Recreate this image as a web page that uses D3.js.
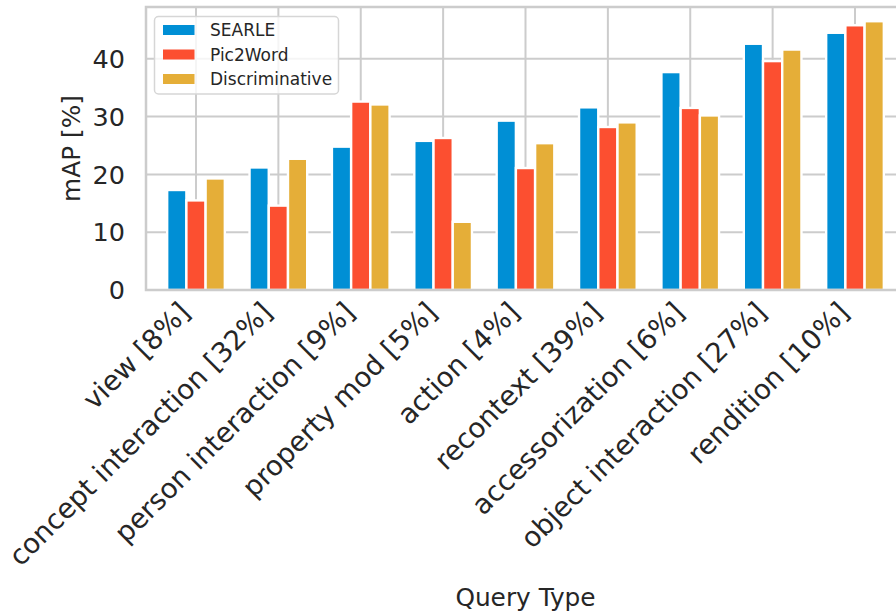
<!DOCTYPE html>
<html>
<head>
<meta charset="utf-8">
<script src="https://cdn.jsdelivr.net/npm/d3@7"></script>
<style>
  html, body { margin: 0; padding: 0; background: #fff; }
  svg { display: block; font-family: "DejaVu Sans", sans-serif; }
</style>
</head>
<body>
<svg id="chart" width="896" height="615"></svg>
<script>
// Query types with their share of the benchmark
const categories = [
  "view [8%]", "concept interaction [32%]", "person interaction [9%]",
  "property mod [5%]", "action [4%]", "recontext [39%]",
  "accessorization [6%]", "object interaction [27%]", "rendition [10%]"
];
const seriesNames = ["SEARLE", "Pic2Word", "Discriminative"];
const searle         = [17.3, 21.2, 24.8, 25.8, 29.3, 31.6, 37.7, 42.6, 44.5];
const pic2word       = [15.5, 14.6, 32.6, 26.3, 21.1, 28.2, 31.5, 39.6, 45.8];
const discriminative = [19.3, 22.7, 32.1, 11.8, 25.4, 29.0, 30.2, 41.6, 46.5];
const yTicks = [0, 10, 20, 30, 40];

const seriesValues = [searle, pic2word, discriminative];
const colors = ["#008fd5", "#fc4f30", "#e5ae38"];
const textColor = "#262626";
const gridColor = "#cccccc";

const svg = d3.select("#chart");
const plotLeft = 146, plotRight = 905, plotTop = 7, plotBottom = 290;

// index-based x scale: category i sits at x(i)
const x = d3.scaleLinear().domain([-0.607, 8.607]).range([plotLeft, plotRight]);
const y = d3.scaleLinear().domain([0, 48.96]).range([plotBottom, plotTop]);
const barW = 0.7 / 3;

// grid
const grid = svg.append("g");
grid.selectAll("line.h").data(yTicks).join("line")
  .attr("x1", plotLeft).attr("x2", plotRight)
  .attr("y1", d => y(d)).attr("y2", d => y(d))
  .attr("stroke", gridColor).attr("stroke-width", 2);
grid.selectAll("line.v").data(categories.map((c, i) => i)).join("line")
  .attr("x1", d => x(d)).attr("x2", d => x(d))
  .attr("y1", plotTop).attr("y2", plotBottom)
  .attr("stroke", gridColor).attr("stroke-width", 2);

// bars
seriesValues.forEach((vals, s) => {
  svg.append("g").selectAll("rect").data(vals).join("rect")
    .attr("x", (d, i) => x(i + (s - 1) * barW - barW / 2))
    .attr("width", x(barW) - x(0))
    .attr("y", d => y(d))
    .attr("height", d => y(0) - y(d))
    .attr("fill", colors[s])
    .attr("stroke", "#ffffff")
    .attr("stroke-width", 2.4);
});

// spines (left, top, bottom)
const sp = svg.append("g").attr("stroke", gridColor).attr("stroke-width", 2.5).attr("fill", "none");
sp.append("path").attr("d", `M${plotRight},${plotTop}H${plotLeft}V${plotBottom}H${plotRight}`);

// y tick labels
svg.append("g").selectAll("text").data(yTicks).join("text")
  .attr("x", 125).attr("y", d => y(d))
  .attr("dy", "0.36em")
  .attr("text-anchor", "end")
  .attr("font-size", 25.5)
  .attr("fill", textColor)
  .text(d => d);

// x tick labels rotated 45°
svg.append("g").selectAll("text").data(categories).join("text")
  .attr("transform", (d, i) => `translate(${x(i) - 4.5},${314}) rotate(-45)`)
  .attr("text-anchor", "end")
  .attr("font-size", 27.5)
  .attr("fill", textColor)
  .text(d => d);

// axis titles
svg.append("text")
  .attr("transform", `translate(80,${(plotTop + plotBottom) / 2}) rotate(-90)`)
  .attr("text-anchor", "middle")
  .attr("font-size", 24.8)
  .attr("fill", textColor)
  .text("mAP [%]");
svg.append("text")
  .attr("x", (plotLeft + plotRight) / 2).attr("y", 606)
  .attr("text-anchor", "middle")
  .attr("font-size", 24.8)
  .attr("fill", textColor)
  .text("Query Type");

// legend
const lg = svg.append("g");
lg.append("rect")
  .attr("x", 154.5).attr("y", 16.5).attr("width", 184).attr("height", 77.5)
  .attr("rx", 4).attr("ry", 4)
  .attr("fill", "#ffffff").attr("fill-opacity", 0.8)
  .attr("stroke", "#d6d6d6").attr("stroke-width", 1.5);
seriesNames.forEach((name, s) => {
  const cy = 30 + s * 24.5;
  lg.append("rect")
    .attr("x", 163).attr("y", cy - 5).attr("width", 31.5).attr("height", 10)
    .attr("fill", colors[s]);
  lg.append("text")
    .attr("x", 210).attr("y", cy).attr("dy", "0.36em")
    .attr("font-size", 17)
    .attr("fill", textColor)
    .text(name);
});
</script>
</body>
</html>
